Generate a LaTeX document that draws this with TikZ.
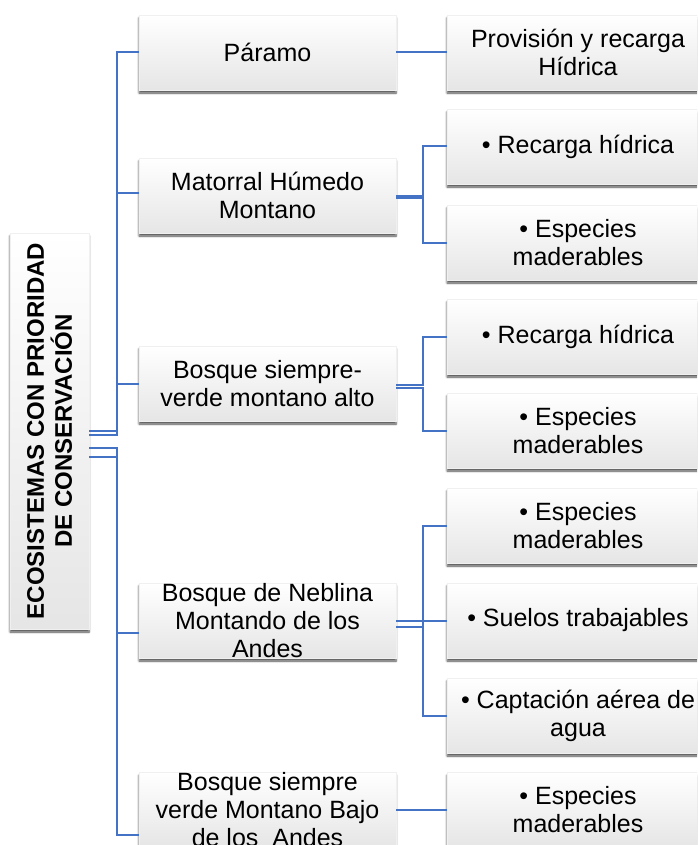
\documentclass[tikz,border=0pt]{standalone}
\usepackage{fontspec}
\setmainfont{Liberation Sans}
\usepackage{tikz}
\usetikzlibrary{shadows.blur}

\definecolor{linkblue}{HTML}{4472C4}

\begin{document}
\begin{tikzpicture}[
    x=1pt, y=-1pt, % picture units follow the image, y grows downwards
    box/.style={
        top color=white, % light gradient, white at the top
        bottom color=gray!20, % light grey at the bottom
        draw=gray!12, % faint edge
        blur shadow={shadow xshift=0pt, shadow yshift=-3pt, shadow blur steps=6, shadow opacity=70},
        inner sep=0pt,
        align=center, % center text in the box
        font=\fontsize{25}{28}\selectfont
    },
    groupbox/.style={box, minimum width=257pt, minimum height=75pt}, % middle column
    itembox/.style={box, minimum width=262pt, minimum height=75pt}, % right column
    rootbox/.style={box, minimum width=396pt, minimum height=79pt, rotate=90,
        font=\fontsize{24}{28}\selectfont\bfseries},
    link/.style={draw=linkblue, line width=2pt} % connector lines
]
\useasboundingbox (0,0) rectangle (697,845);
\clip (0,0) rectangle (697,845);

% root
\node[rootbox] (root) at (49.5,431) {ECOSISTEMAS CON PRIORIDAD\\DE CONSERVACIÓN};

% middle column
\node[groupbox] (paramo) at (267.5,52.5) {Páramo};
\node[groupbox] (matorral) at (267.5,195.5) {Matorral Húmedo\\Montano};
\node[groupbox] (alto) at (267.5,383.5) {Bosque siempre-\\verde montano alto};
\node[groupbox] (neblina) at (267.5,620.5) {Bosque de Neblina\\Montando de los\\Andes};
\node[groupbox] (bajo) at (267.5,810) {Bosque siempre\\verde Montano Bajo\\de los \ Andes};

% right column
\node[itembox] (provision) at (578,52.5) {Provisión y recarga\\Hídrica};
\node[itembox] (recargaA) at (578,146.5) {• Recarga hídrica};
\node[itembox] (especiesA) at (578,242.5) {• Especies\\maderables};
\node[itembox] (recargaB) at (578,336.5) {• Recarga hídrica};
\node[itembox] (especiesB) at (578,430.5) {• Especies\\maderables};
\node[itembox] (especiesC) at (578,525.5) {• Especies\\maderables};
\node[itembox] (suelos) at (578,620.5) {• Suelos trabajables};
\node[itembox] (captacion) at (578,715.5) {• Captación aérea de\\agua};
\node[itembox] (especiesD) at (578,810) {• Especies\\maderables};

% root to middle column
\draw[link] (root.south) -- ++(28,0) |- (paramo.west);
\draw[link] ([yshift=-4pt]root.south) -- ++(28,0) |- ([yshift=2.5pt]matorral.west);
\draw[link] ([yshift=-4pt]root.south) -- ++(28,0) |- (alto.west);
\draw[link] ([yshift=-17pt]root.south) -- ++(28,0) |- ([yshift=-12.5pt]neblina.west);
\draw[link] ([yshift=-26pt]root.south) -- ++(28,0) |- ([yshift=-25pt]bajo.west);

% middle column to right column
\draw[link] (paramo.east) -- (provision.west);
\draw[link] (matorral.east) -- ++(27,0) |- (recargaA.west);
\draw[link] ([yshift=-2.5pt]matorral.east) -- ++(27,0) |- (especiesA.west);
\draw[link] ([yshift=-1.5pt]alto.east) -- ++(27,0) |- (recargaB.west);
\draw[link] ([yshift=-4.5pt]alto.east) -- ++(27,0) |- (especiesB.west);
\draw[link] (neblina.east) -- (suelos.west);
\draw[link] ([yshift=-6.5pt]neblina.east) -- ++(27,0) |- (especiesC.west);
\draw[link] ([yshift=-6.5pt]neblina.east) -- ++(27,0) |- (captacion.west);
\draw[link] (bajo.east) -- (especiesD.west);
\end{tikzpicture}
\end{document}
